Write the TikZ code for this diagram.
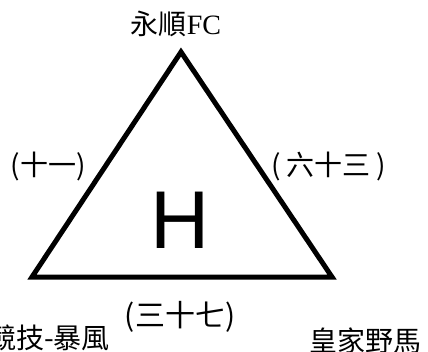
\documentclass[tikz,border=0pt]{standalone}
\usepackage{fontspec}
\setmainfont{Liberation Serif}
\newfontfamily\cjk{Noto Sans CJK TC}[Scale=1.0]
\newfontfamily\hsans{Liberation Sans}
\begin{document}
\begin{tikzpicture}[x=1pt,y=-1pt,
  edge/.style={draw=black,line width=5pt,line join=miter},
  lbl/.style={inner sep=0pt,font=\cjk\fontsize{28}{28}\selectfont}]
\useasboundingbox (0,0) rectangle (428,351);
\coordinate (T) at (181,52);
\coordinate (L) at (32,277);
\coordinate (R) at (332,277);
\draw[edge] (T) -- (L) -- (R) -- cycle;
\node[lbl] (top) at (176,24) {永順\rmfamily FC};
\node[lbl] (ab) at (48,166) {(十一)};
\node[lbl] (ac) at (329,166) {(\hspace{6pt}六十三\hspace{6pt})};
\node[inner sep=0pt,font=\hsans\fontsize{82}{82}\selectfont] (h) at (180,220) {H};
\node[lbl,font=\cjk\fontsize{30}{30}\selectfont] (bc) at (180,317) {(三十七)};
\node[lbl,anchor=east] (b) at (110,338) {競技-暴風};
\node[lbl] (c) at (365,341) {皇家野馬};
\end{tikzpicture}
\end{document}
